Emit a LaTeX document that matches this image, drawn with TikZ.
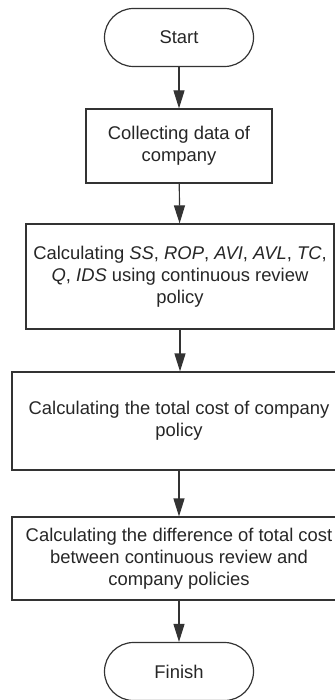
\documentclass[tikz,border=0pt]{standalone}
\usepackage{fontspec}
\setmainfont{Liberation Sans}
\usetikzlibrary{arrows.meta}
\tikzset{>={Triangle[length=9pt,width=5.5pt]}}

\begin{document}
\begin{tikzpicture}[x=0.5pt,y=-0.5pt]
      \tikzstyle{terminal}=[draw=black!80,line width=.6pt,rounded corners=14.5pt,minimum width=74.5pt,minimum height=29pt,inner sep=0pt,text=black!85,font=\fontsize{9.2}{11}\selectfont];
      \tikzstyle{process}=[draw=black!80,line width=.6pt,align=center,inner sep=0pt,text=black!85,font=\fontsize{9.2}{11}\selectfont];
      \useasboundingbox (0,0) rectangle (335,700);
      \node[terminal] (start) at (179,37.5) {Start};
      \node[process,minimum width=93pt,minimum height=37pt] (collect) at (179,146) {Collecting data of\\company};
      \node[process,minimum width=154pt,minimum height=52.5pt] (review) at (180,276.5) {Calculating \textit{SS}, \textit{ROP}, \textit{AVI}, \textit{AVL}, \textit{TC},\\\textit{Q}, \textit{IDS} using continuous review\\policy};
      \node[process,minimum width=167pt,minimum height=49pt] (costco) at (179,421) {Calculating the total cost of company\\policy};
      \node[process,minimum width=167pt,minimum height=41.5pt] (diff) at (179,558.5) {Calculating the difference of total cost\\between continuous review and\\company policies};
      \node[terminal] (finish) at (179,671.5) {Finish};
      \draw[line width=.6pt,black!80,->](start)--(collect);
      \draw[line width=.6pt,black!80,->](collect)--(review);
      \draw[line width=.6pt,black!80,->](review)--(review|-costco.north);
      \draw[line width=.6pt,black!80,->](costco)--(diff);
      \draw[line width=.6pt,black!80,->](diff)--(finish);
    \end{tikzpicture}
\end{document}
